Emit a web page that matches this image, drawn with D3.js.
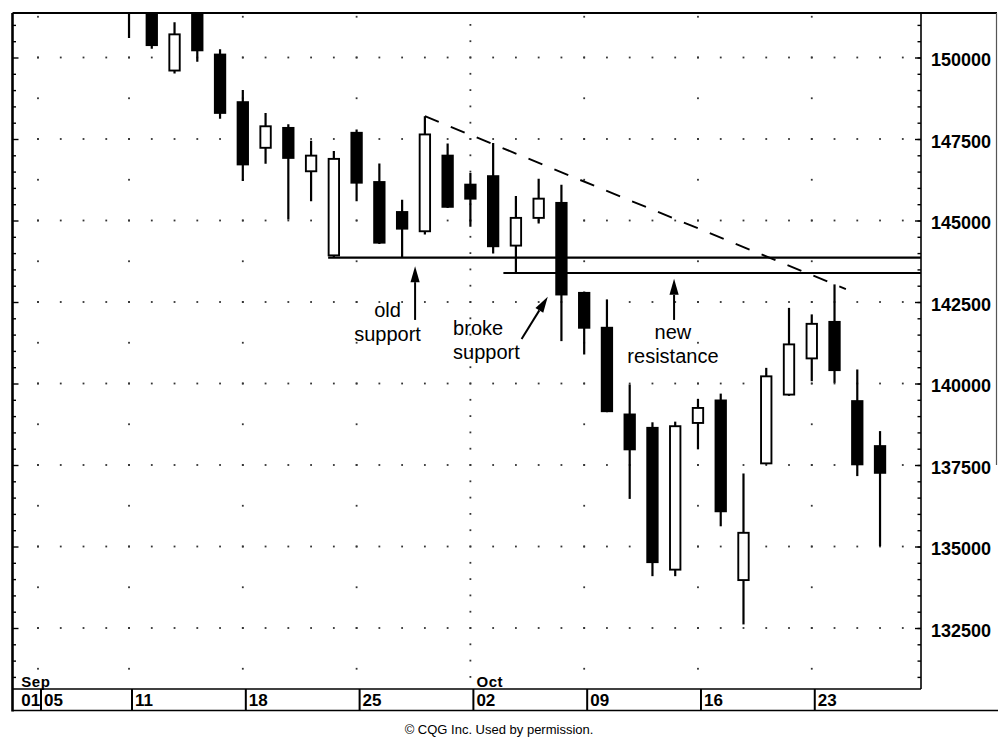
<!DOCTYPE html>
<html>
<head>
<meta charset="utf-8">
<script src="https://cdn.jsdelivr.net/npm/d3@7"></script>
<style>
  html, body { margin: 0; padding: 0; background: #fff; }
  svg { display: block; font-family: "Liberation Sans", Arial, Helvetica, sans-serif; }
</style>
</head>
<body>
<svg id="chart" width="998" height="738"></svg>
<script>
// Trading sessions on the date axis (Sep 4 was a market holiday)
const sessions = [
  "2000-09-01","2000-09-05","2000-09-06","2000-09-07","2000-09-08",
  "2000-09-11","2000-09-12","2000-09-13","2000-09-14","2000-09-15",
  "2000-09-18","2000-09-19","2000-09-20","2000-09-21","2000-09-22",
  "2000-09-25","2000-09-26","2000-09-27","2000-09-28","2000-09-29",
  "2000-10-02","2000-10-03","2000-10-04","2000-10-05","2000-10-06",
  "2000-10-09","2000-10-10","2000-10-11","2000-10-12","2000-10-13",
  "2000-10-16","2000-10-17","2000-10-18","2000-10-19","2000-10-20",
  "2000-10-23","2000-10-24","2000-10-25","2000-10-26","2000-10-27"
];

// Daily candles (first sessions of September trade above the visible range)
const candleDates = [
  "2000-09-11","2000-09-12","2000-09-13","2000-09-14","2000-09-15",
  "2000-09-18","2000-09-19","2000-09-20","2000-09-21","2000-09-22",
  "2000-09-25","2000-09-26","2000-09-27","2000-09-28","2000-09-29",
  "2000-10-02","2000-10-03","2000-10-04","2000-10-05","2000-10-06",
  "2000-10-09","2000-10-10","2000-10-11","2000-10-12","2000-10-13",
  "2000-10-16","2000-10-17","2000-10-18","2000-10-19","2000-10-20",
  "2000-10-23","2000-10-24","2000-10-25","2000-10-26"
];
const opens = [
  152000,151700,149600,151500,150090,
  148630,147230,147840,146510,143930,
  147690,146180,145260,144670,146990,
  146100,146360,144230,145080,145540,
  142780,141710,139050,138640,134290,
  138790,139480,133970,137550,139660,
  140770,141890,139460,138080
];
const highs = [
  152300,151900,151080,151700,150250,
  149000,148300,147950,147450,147130,
  147790,146750,145640,148200,147360,
  146460,147380,145750,146280,146100,
  142820,142580,139970,138810,138830,
  139530,139690,137240,140480,142320,
  142120,143040,140430,138540
];
const lows = [
  150600,150270,149510,149870,148120,
  146210,146740,145030,145590,143860,
  145590,144280,143880,144570,145380,
  144810,143990,143390,144910,141300,
  140890,139120,136460,134090,134090,
  137980,135620,132610,137520,139620,
  140070,140020,137160,135010
];
const closes = [
  151500,150380,150710,150220,148300,
  146720,147890,146920,146990,146890,
  146160,144320,144750,147640,145420,
  145670,144210,145080,145670,142730,
  141710,139150,137980,134520,138690,
  139250,136080,135420,140220,141200,
  141830,140410,137520,137260
];

// Price axis labels
const priceLabels = [132500,135000,137500,140000,142500,145000,147500,150000];

// Horizontal support / resistance: taken at the low of the named session
const levelSessions = ["2000-09-22","2000-10-04"];
const levelStartOffset = [0.25, 0.55];   // sessions to the left of the anchor candle

// Falling trend line through two session highs
const trendSessions = ["2000-09-28","2000-10-24"];

// Text notes with their arrows (session position, price)
const noteText = [["old","support"],["broke","support"],["new","resistance"]];
const noteAt = [[16.36,142040],[19.24,141490],[28.90,141350]];
const noteAnchor = ["middle","start","middle"];
const arrowTail = [[17.57,141950],[22.25,141365],[28.95,141950]];
const arrowHead = [[17.57,143600],[23.40,142660],[28.95,143210]];

const footer = "\u00A9 CQG Inc. Used by permission.";

// ---------------------------------------------------------------------------
const parse = d3.timeParse("%Y-%m-%d");
const days = sessions.map(parse);
const idx = new Map(sessions.map((s, i) => [s, i]));

const plot = { left: 12.5, right: 921, top: 13, bottom: 689 };
const dateRowBottom = 710.5;

const x = d3.scaleLinear().domain([-0.12, 39.8]).range([plot.left, plot.right]);
const y = d3.scaleLinear().domain([130629, 151365]).range([plot.bottom, plot.top]);

const svg = d3.select("#chart");

svg.append("defs").append("clipPath").attr("id", "plotClip")
  .append("rect")
  .attr("x", plot.left).attr("y", plot.top)
  .attr("width", plot.right - plot.left).attr("height", plot.bottom - plot.top);

// ---- dotted grid ----------------------------------------------------------
const grid = svg.append("g").attr("fill", "#333").attr("clip-path", "url(#plotClip)");
const weekStart = days.map((d, i) => i > 0 && +d3.timeMonday.floor(d) !== +d3.timeMonday.floor(days[i - 1]));
const monthStart = days.map((d, i) => i > 0 && d.getMonth() !== days[i - 1].getMonth());

const dots = [];
priceLabels.forEach(v => {
  sessions.forEach((s, i) => { if (i > 0) dots.push([i, v]); });
});
const halfLevels = d3.range(131250, 151300, 1250);
const fineLevels = d3.range(131000, 151400, 500);
sessions.forEach((s, i) => {
  if (monthStart[i]) fineLevels.forEach(v => dots.push([i, v]));
  else if (weekStart[i]) halfLevels.forEach(v => dots.push([i, v]));
});
grid.selectAll("rect").data(dots).join("rect")
  .attr("x", d => x(d[0]) - 0.9)
  .attr("y", d => y(d[1]) - 0.9)
  .attr("width", 1.8).attr("height", 1.8);

// ---- candles --------------------------------------------------------------
const candles = candleDates.map((s, k) => ({
  i: idx.get(s), o: opens[k], h: highs[k], l: lows[k], c: closes[k]
}));
const cg = svg.append("g").attr("clip-path", "url(#plotClip)");
const bodyW = 10.4;

cg.selectAll("line.wick").data(candles).join("line")
  .attr("class", "wick")
  .attr("x1", d => x(d.i)).attr("x2", d => x(d.i))
  .attr("y1", d => y(d.h)).attr("y2", d => y(d.l))
  .attr("stroke", "#000").attr("stroke-width", 2.2);

cg.selectAll("rect.body").data(candles).join("rect")
  .attr("class", "body")
  .attr("x", d => x(d.i) - bodyW / 2)
  .attr("y", d => y(Math.max(d.o, d.c)))
  .attr("width", bodyW)
  .attr("height", d => Math.max(1, Math.abs(y(d.o) - y(d.c))))
  .attr("fill", d => d.c < d.o ? "#000" : "#fff")
  .attr("stroke", "#000").attr("stroke-width", 1.9);

// ---- support / resistance levels -----------------------------------------
const levels = levelSessions.map((s, k) => {
  const c = candles.find(d => d.i === idx.get(s));
  return { i: c.i - levelStartOffset[k], v: c.l };
});
cg.selectAll("line.level").data(levels).join("line")
  .attr("class", "level")
  .attr("x1", d => x(d.i)).attr("x2", plot.right)
  .attr("y1", d => y(d.v)).attr("y2", d => y(d.v))
  .attr("stroke", "#000").attr("stroke-width", (d, k) => k === 0 ? 2.2 : 1.8);

// ---- falling trend line ---------------------------------------------------
const tA = candles.find(d => d.i === idx.get(trendSessions[0]));
const tB = candles.find(d => d.i === idx.get(trendSessions[1]));
const slope = (tB.h - tA.h) / (tB.i - tA.i);
const tEnd = tB.i + 0.5;
cg.append("line")
  .attr("x1", x(tA.i)).attr("y1", y(tA.h))
  .attr("x2", x(tEnd)).attr("y2", y(tA.h + slope * (tEnd - tA.i)))
  .attr("stroke", "#000").attr("stroke-width", 1.9)
  .attr("stroke-dasharray", "15 13");

// ---- notes and arrows -----------------------------------------------------
const notes = svg.append("g").attr("font-size", 20).attr("fill", "#000");
noteText.forEach((lines, k) => {
  const t = notes.append("text")
    .attr("x", x(noteAt[k][0])).attr("y", y(noteAt[k][1]))
    .attr("text-anchor", noteAnchor[k]);
  lines.forEach((ln, j) => {
    t.append("tspan").attr("x", x(noteAt[k][0])).attr("dy", j === 0 ? 0 : 24).text(ln);
  });
});

arrowTail.forEach((tail, k) => {
  const x0 = x(tail[0]), y0 = y(tail[1]);
  const x1 = x(arrowHead[k][0]), y1 = y(arrowHead[k][1]);
  const ang = Math.atan2(y1 - y0, x1 - x0);
  const len = 16, half = 4.6;
  const bx = x1 - len * Math.cos(ang), by = y1 - len * Math.sin(ang);
  notes.append("line")
    .attr("x1", x0).attr("y1", y0).attr("x2", bx).attr("y2", by)
    .attr("stroke", "#000").attr("stroke-width", 2);
  const px = -Math.sin(ang) * half, py = Math.cos(ang) * half;
  notes.append("path")
    .attr("d", `M${x1},${y1}L${bx + px},${by + py}L${bx - px},${by - py}Z`)
    .attr("fill", "#000");
});

// ---- price axis (right) ---------------------------------------------------
const minorTicks = d3.range(131000, 151400, 500);
const rightMinor = svg.append("g").attr("transform", `translate(${plot.right},0)`)
  .call(d3.axisRight(y).tickValues(minorTicks).tickSize(-3.5).tickFormat(""));
rightMinor.select(".domain").remove();
const rightMajor = svg.append("g").attr("transform", `translate(${plot.right},0)`)
  .call(d3.axisRight(y).tickValues(priceLabels).tickSize(-6).tickPadding(10).tickFormat(d3.format("d")));
rightMajor.select(".domain").remove();
rightMajor.selectAll("text")
  .attr("font-family", "'Liberation Sans', Arial, sans-serif")
  .attr("font-size", 18).attr("font-weight", "bold").attr("fill", "#000")
  .attr("dy", "0.45em");

// left edge ticks
const leftMinor = svg.append("g").attr("transform", `translate(${plot.left},0)`)
  .call(d3.axisRight(y).tickValues(minorTicks.filter(v => v % 2500 !== 0)).tickSize(3.5).tickFormat(""));
leftMinor.select(".domain").remove();
const leftMajor = svg.append("g").attr("transform", `translate(${plot.left},0)`)
  .call(d3.axisRight(y).tickValues(priceLabels).tickSize(6).tickFormat(""));
leftMajor.select(".domain").remove();
svg.selectAll(".tick line").attr("stroke", "#000").attr("stroke-width", 1.4);

// ---- frame ----------------------------------------------------------------
const frame = svg.append("g").attr("stroke", "#000").attr("fill", "none");
frame.append("line").attr("x1", plot.left).attr("x2", 997).attr("y1", plot.top).attr("y2", plot.top).attr("stroke-width", 2);
frame.append("line").attr("x1", plot.left).attr("x2", plot.left).attr("y1", plot.top).attr("y2", dateRowBottom + 1).attr("stroke-width", 2.6);
frame.append("line").attr("x1", plot.right).attr("x2", plot.right).attr("y1", plot.top).attr("y2", plot.bottom).attr("stroke-width", 1.6);
frame.append("line").attr("x1", plot.left).attr("x2", plot.right).attr("y1", plot.bottom).attr("y2", plot.bottom).attr("stroke-width", 1.6);
frame.append("line").attr("x1", plot.left).attr("x2", 998).attr("y1", dateRowBottom).attr("y2", dateRowBottom).attr("stroke-width", 1.4);
frame.append("line").attr("x1", 996.5).attr("x2", 996.5).attr("y1", plot.top).attr("y2", 465).attr("stroke-width", 1.2).attr("stroke", "#555");

// ---- date axis --------------------------------------------------------------
const sepShift = 3;
const dayFmt = d3.timeFormat("%d");
const monFmt = d3.timeFormat("%b");
const dateAxis = svg.append("g");
const labelled = sessions.map((s, i) => i).filter(i => i === 0 || weekStart[i]);
dateAxis.selectAll("line").data(labelled.filter(i => i > 0)).join("line")
  .attr("x1", i => x(i) + sepShift).attr("x2", i => x(i) + sepShift)
  .attr("y1", plot.bottom).attr("y2", dateRowBottom)
  .attr("stroke", "#000").attr("stroke-width", 2);
dateAxis.selectAll("text.day").data(labelled).join("text")
  .attr("class", "day")
  .attr("x", i => Math.max(x(i) + sepShift, plot.left + 2) + 3)
  .attr("y", 706)
  .attr("font-size", 17).attr("font-weight", "bold")
  .text(i => dayFmt(days[i]));
const months = sessions.map((s, i) => i).filter(i => i === 0 || monthStart[i]);
dateAxis.selectAll("text.mon").data(months).join("text")
  .attr("class", "mon")
  .attr("x", i => Math.max(x(i) + sepShift, plot.left + 2) + 3)
  .attr("y", 687)
  .attr("font-size", 15).attr("font-weight", "bold").attr("letter-spacing", 0.6)
  .text(i => monFmt(days[i]));

// ---- footer ---------------------------------------------------------------
svg.append("text")
  .attr("x", 499).attr("y", 734)
  .attr("text-anchor", "middle")
  .attr("font-size", 13)
  .text(footer);
</script>
</body>
</html>
